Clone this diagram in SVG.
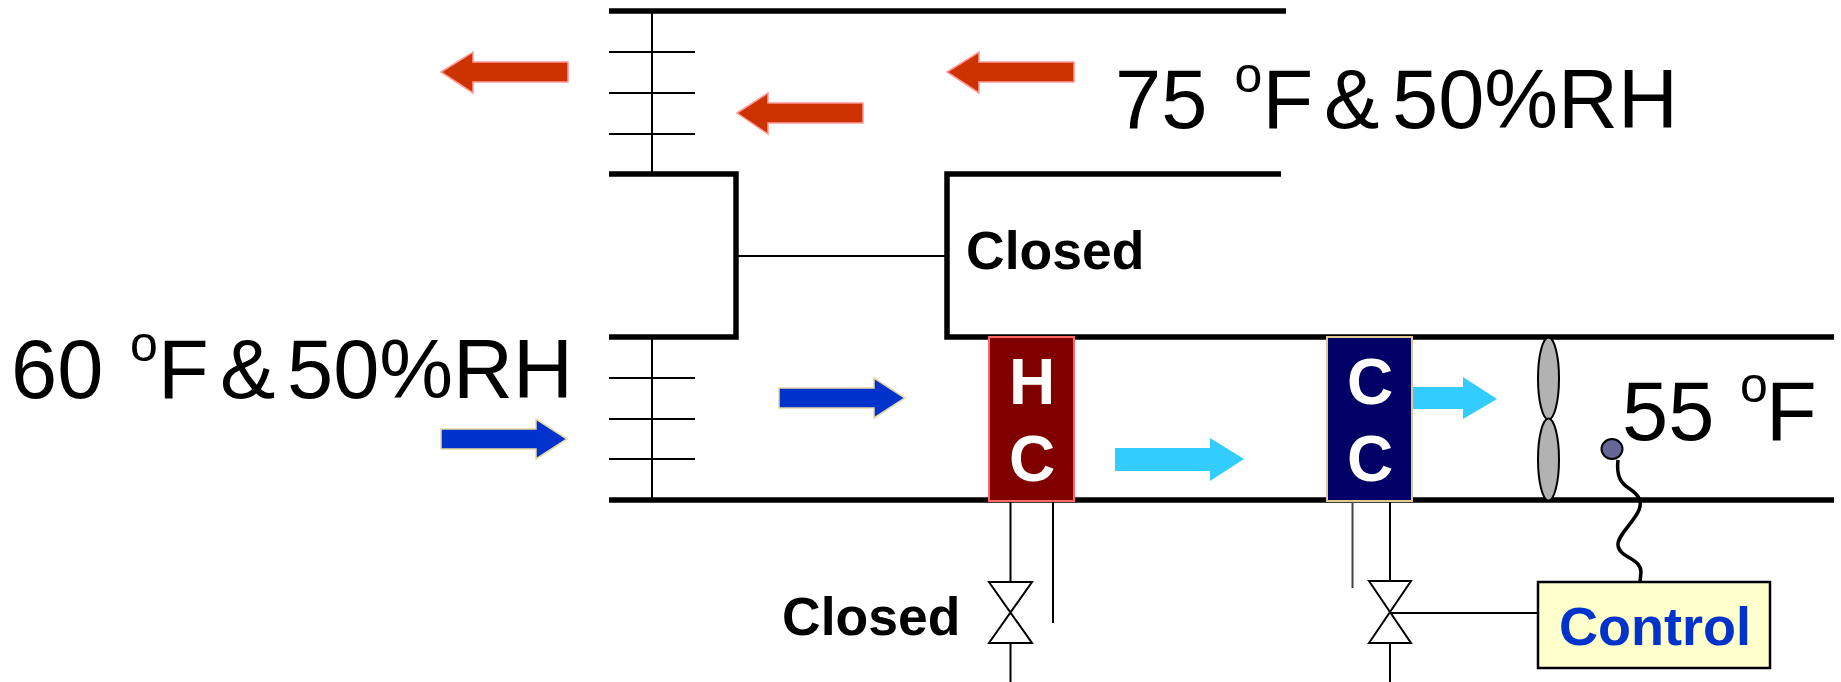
<svg xmlns="http://www.w3.org/2000/svg" width="1841" height="682" viewBox="0 0 1841 682">
<style>
text{font-family:"Liberation Sans",Arial,sans-serif}
.big{font-size:83px;fill:#000}
.sup{font-size:50px;fill:#000}
.lbl{font-size:53.500px;font-weight:700;fill:#000}
.coil{font-size:64px;font-weight:700;fill:#fff;text-anchor:middle}
.duct{stroke:#000;stroke-width:5.500;fill:none}
.thin{stroke:#000;stroke-width:2;fill:none}
.red{fill:#cc3300;stroke:#ff9999;stroke-width:1.500}
.blue{fill:#0033cc;stroke:#e8d8a0;stroke-width:1.500}
.cyan{fill:#33ccff}
.fan{fill:#b2b2b2;stroke:#000;stroke-width:2}
.valve{fill:#fff;stroke:#000;stroke-width:2}
</style>
<g id="connectors">
<path class="duct" d="M609 11H1286M609 174H736V337H609M1281 174H947V337H1834M609 500H1834"/>
<path class="thin" d="M652 11V174M609 52H695M609 93H695M609 134H695M736 256H947M652 337V500M609 378H695M609 419H695M609 459H695"/>
<path class="thin" d="M1010.500 501V582M1010.500 643V682M1053 501V623M1390 501V581M1390 643V682M1390 613H1538"/>
<path d="M1352.500 501V588" stroke="#444" stroke-width="2" fill="none"/>
<path d="M1618 460C1616 478 1622 484 1630 489C1640 496 1642 502 1639 510C1634 522 1617 536 1618 545C1619 558 1641 558 1641 572L1640 582" stroke="#000" stroke-width="3.500" fill="none"/>
</g>
<g id="arrow-red-1"><path class="red" d="M441 72L473 52V62H568V82H473V93Z"/></g>
<g id="arrow-red-2"><path class="red" d="M737 113L768 93V103H863V123H768V134Z"/></g>
<g id="arrow-red-3"><path class="red" d="M947 72L979 52V62H1074V82H979V93Z"/></g>
<g id="arrow-blue-1"><path class="blue" d="M567 439L536 419V429H441V449H536V459Z"/></g>
<g id="arrow-blue-2"><path class="blue" d="M905 398L874 378V388H779V408H874V418Z"/></g>
<g id="arrow-cyan-1"><path class="cyan" d="M1244 459L1210 438V448H1115V471H1210V481Z"/></g>
<g id="arrow-cyan-2"><path class="cyan" d="M1497 399L1463 377V387H1412V409H1463V419Z"/></g>
<g id="heating-coil">
<rect x="989" y="337" width="85" height="164" fill="#800000" stroke="#ff6666" stroke-width="2"/>
<text class="coil" x="1032" y="404">H</text><text class="coil" x="1032" y="481">C</text>
</g>
<g id="cooling-coil">
<rect x="1327" y="337" width="85" height="164" fill="#000066" stroke="#e0c890" stroke-width="2"/>
<text class="coil" x="1370" y="404">C</text><text class="coil" x="1370" y="481">C</text>
</g>
<g id="fan">
<ellipse class="fan" cx="1548.500" cy="378.500" rx="10.500" ry="41"/>
<ellipse class="fan" cx="1548.500" cy="459.500" rx="10.500" ry="41"/>
</g>
<g id="sensor"><ellipse cx="1612" cy="449" rx="10.500" ry="10" fill="#666699" stroke="#000" stroke-width="2"/></g>
<g id="valve-hc"><path class="valve" d="M989 582H1032L989 643H1032Z"/></g>
<g id="valve-cc"><path class="valve" d="M1369 581H1411L1369 643H1411Z"/></g>
<g id="control">
<rect x="1538" y="582" width="232" height="86" fill="#ffffcc" stroke="#000" stroke-width="2.500"/>
<text class="lbl" x="1559" y="645" style="fill:#0033cc;font-size:54px">Control</text>
</g>
<g id="label-closed-1"><text class="lbl" x="966" y="269">Closed</text></g>
<g id="label-closed-2"><text class="lbl" x="782" y="635">Closed</text></g>
<g id="label-75"><text class="big" x="1115" y="128">75</text><text class="sup" x="1234.500" y="92">o</text><text class="big" x="1262.500" y="128">F</text><text class="big" x="1324" y="128">&amp;</text><text class="big" x="1392" y="128">50%RH</text></g>
<g id="label-60"><text class="big" x="11" y="398">60</text><text class="sup" x="130" y="361">o</text><text class="big" x="158" y="398">F</text><text class="big" x="220" y="398">&amp;</text><text class="big" x="287" y="398">50%RH</text></g>
<g id="label-55"><text class="big" x="1622" y="440">55</text><text class="sup" x="1740" y="402">o</text><text class="big" x="1766" y="440">F</text></g>
</svg>
